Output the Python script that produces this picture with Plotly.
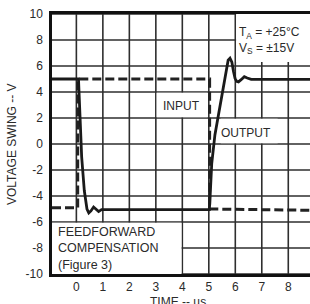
import plotly.graph_objects as go

# Data
input_t = [-0.92, 0.05, 0.05, 5.03, 5.03, 8.82]
input_v = [-4.9, -4.9, 5.0, 5.0, -5.0, -5.1]

output_t = [-0.92, 0.08, 0.14, 0.2, 0.3, 0.4, 0.47, 0.55, 0.65, 0.75, 0.84, 0.95, 1.1,
            5.02, 5.05, 5.11, 5.23, 5.42, 5.55, 5.65, 5.73, 5.8, 5.87, 5.93, 5.99, 6.05,
            6.12, 6.22, 6.34, 6.45, 6.6, 8.82]
output_v = [5.0, 5.0, 2.0, -1.0, -3.6, -5.0, -5.3, -5.15, -4.85, -5.0, -5.2, -5.05, -5.05,
            -5.05, -4.0, -1.5, 0.7, 3.0, 4.5, 5.8, 6.45, 6.6, 6.3, 5.6, 5.05, 4.82,
            4.78, 4.95, 5.18, 5.08, 4.97, 4.97]

x_ticks = [0, 1, 2, 3, 4, 5, 6, 7, 8]
y_ticks = [-10, -8, -6, -4, -2, 0, 2, 4, 6, 8, 10]

FONT = "Liberation Sans, Arial, sans-serif"
TXT = "#2a2a2a"
GRID = "#2e2e2e"

fig = go.Figure()
fig.add_trace(go.Scatter(x=input_t, y=input_v, mode="lines",
                         line=dict(color="#222222", width=3, dash="9px,4px"),
                         hoverinfo="skip", showlegend=False))
fig.add_trace(go.Scatter(x=output_t, y=output_v, mode="lines",
                         line=dict(color="#1a1a1a", width=2.8),
                         hoverinfo="skip", showlegend=False))

# grid lines, drawn from the tick lists along the axes' own scales
for xv in x_ticks:
    fig.add_shape(type="line", xref="x", yref="paper", x0=xv, x1=xv, y0=0, y1=1,
                  layer="below", line=dict(color=GRID, width=1.6))
for yv in y_ticks:
    fig.add_shape(type="line", xref="paper", yref="y", x0=0, x1=1, y0=yv, y1=yv,
                  layer="below", line=dict(color=GRID, width=1.6))

# white boxes hiding grid under labels
boxes = [(-0.92, 3.97, -10, -6.06), (6.03, 8.82, 6.3, 10), (3.03, 4.95, 2.06, 3.94),
         (5.45, 7.6, 0.06, 1.94)]
for x0, x1, y0, y1 in boxes:
    fig.add_shape(type="rect", x0=x0, x1=x1, y0=y0, y1=y1, layer="below",
                  fillcolor="white", line=dict(width=0))

fig.add_annotation(x=-0.78, y=-8.0, xanchor="left", yanchor="middle", align="left",
                   text="FEEDFORWARD<br>COMPENSATION<br>(Figure 3)", showarrow=False,
                   font=dict(family=FONT, size=12.5, color=TXT))
fig.add_annotation(x=6.08, y=8.0, xanchor="left", yanchor="middle", align="left",
                   text="T<sub>A</sub> = +25°C<br>V<sub>S</sub> = ±15V", showarrow=False,
                   font=dict(family=FONT, size=12, color=TXT))
fig.add_annotation(x=3.95, y=2.92, text="INPUT", showarrow=False,
                   font=dict(family=FONT, size=12, color=TXT))
fig.add_annotation(x=6.4, y=0.85, text="OUTPUT", showarrow=False,
                   font=dict(family=FONT, size=12, color=TXT))
fig.add_annotation(xref="paper", yref="paper", x=-0.155, y=0.5, textangle=-90,
                   xanchor="center", yanchor="middle",
                   text="VOLTAGE SWING -- V", showarrow=False,
                   font=dict(family=FONT, size=12, color=TXT))
fig.add_annotation(xref="paper", yref="paper", x=0.488, y=-0.108, yanchor="middle",
                   xanchor="center",
                   text="TIME -- µs", showarrow=False,
                   font=dict(family=FONT, size=12, color=TXT))

fig.update_xaxes(range=[-0.92, 8.82], tickmode="array", tickvals=x_ticks,
                 ticktext=[str(v) for v in x_ticks],
                 showgrid=False, zeroline=False,
                 showline=True, linecolor="#111111", linewidth=2.5, mirror=True,
                 ticks="", automargin=False,
                 tickfont=dict(family=FONT, size=12, color=TXT))
fig.update_yaxes(range=[-10, 10], tickmode="array", tickvals=y_ticks,
                 ticktext=[str(v) for v in y_ticks],
                 showgrid=False, zeroline=False,
                 showline=True, linecolor="#111111", linewidth=2.5, mirror=False,
                 ticks="outside", ticklen=4, tickcolor="rgba(0,0,0,0)", automargin=False,
                 tickfont=dict(family=FONT, size=12, color=TXT))

fig.update_layout(width=310, height=304, margin=dict(l=52, r=0, t=14, b=30),
                  paper_bgcolor="white", plot_bgcolor="white")

fig.write_html("out.html", config={"displayModeBar": False},
               post_script="document.body.style.margin='0px';")
